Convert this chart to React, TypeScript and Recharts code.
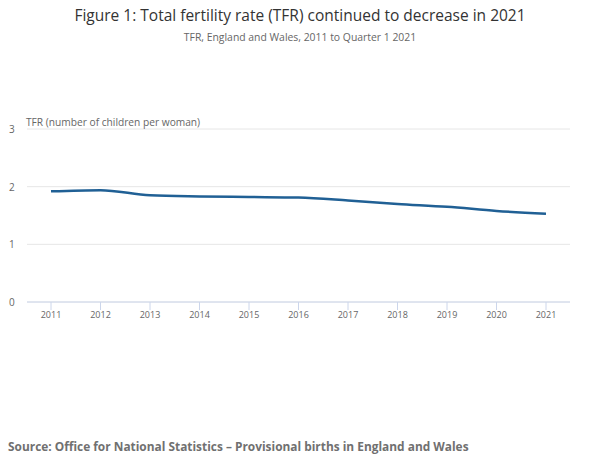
import React from 'react'
import { LineChart, Line, XAxis, YAxis, CartesianGrid } from 'recharts'

const years = ['2011', '2012', '2013', '2014', '2015', '2016', '2017', '2018', '2019', '2020', '2021']
const tfr = [1.92, 1.94, 1.85, 1.83, 1.82, 1.81, 1.76, 1.7, 1.65, 1.58, 1.53]
const yTicks = [0, 1, 2, 3]

const data = years.map((year, i) => ({ year, tfr: tfr[i] }))

const FONT = '"Open Sans", sans-serif'
const BLUE = '#206095'

function YTick({ x, y, payload }: any) {
  return (
    <text x={9} y={y} dy={4} textAnchor="start" fill="#666" fontSize={10} fontFamily={FONT}>
      {payload.value}
    </text>
  )
}

export default function App() {
  return (
    <div style={{ position: 'absolute', left: 0, top: 0, width: 600, height: 471, background: '#fff', fontFamily: FONT }}>
      <div style={{ position: 'absolute', top: 4, left: 0, width: 600, textAlign: 'center', fontSize: 15.5, color: '#333' }}>
        Figure 1: Total fertility rate (TFR) continued to decrease in 2021
      </div>
      <div style={{ position: 'absolute', top: 30, left: 0, width: 600, textAlign: 'center', fontSize: 10.4, color: '#666' }}>
        TFR, England and Wales, 2011 to Quarter 1 2021
      </div>
      <LineChart
        width={600}
        height={471}
        data={data}
        margin={{ top: 129, right: 30, bottom: 139, left: 0 }}
      >
        <CartesianGrid vertical={false} stroke="#e6e6e6" />
        <XAxis
          dataKey="year"
          padding={{ left: 24, right: 24 }}
          axisLine={{ stroke: '#ccd6eb' }}
          tickLine={{ stroke: '#ccd6eb' }}
          tickSize={8}
          tick={{ fill: '#666', fontSize: 9, fontFamily: FONT }}
          height={30}
          interval={0}
        />
        <YAxis
          width={27}
          domain={[0, 3]}
          ticks={yTicks}
          axisLine={false}
          tickLine={false}
          tick={<YTick />}
        />
        <Line
          type="monotone"
          dataKey="tfr"
          stroke={BLUE}
          strokeWidth={2.5}
          dot={false}
          isAnimationActive={false}
        />
      </LineChart>
      <div style={{ position: 'absolute', top: 115, left: 26, fontSize: 10.2, color: '#666' }}>
        TFR (number of children per woman)
      </div>
      <div style={{ position: 'absolute', top: 438, left: 8, fontSize: 11.9, fontWeight: 700, color: '#707070' }}>
        Source: Office for National Statistics – Provisional births in England and Wales
      </div>
    </div>
  )
}
